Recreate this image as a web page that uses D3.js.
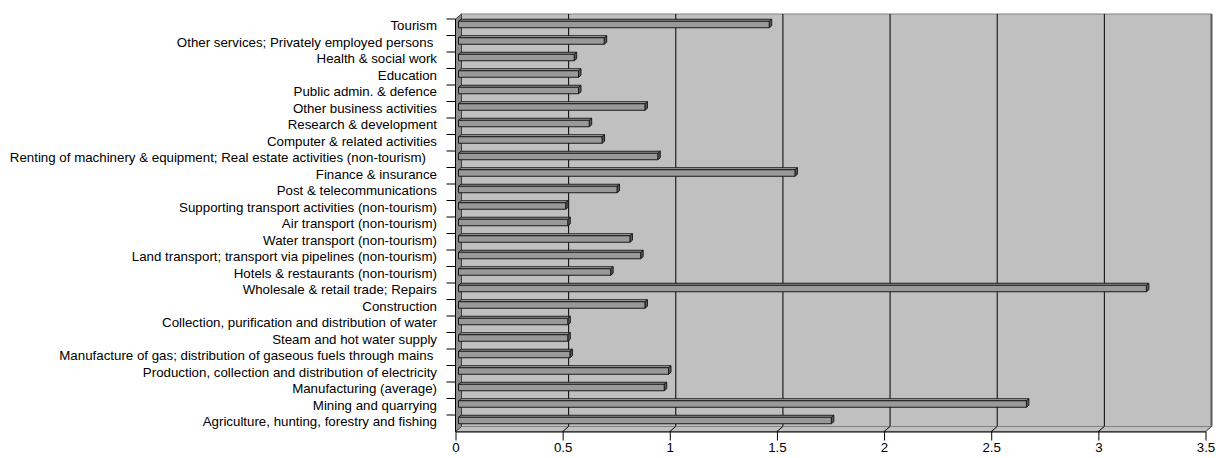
<!DOCTYPE html>
<meta charset="utf-8">
<style>
body { margin: 0; background: #fff; }
svg text { font-family: "Liberation Sans", Arial, sans-serif; font-size: 13.3px; fill: #000; white-space: pre; }
</style>
<svg width="1216" height="458"></svg>
<script src="https://cdn.jsdelivr.net/npm/d3@7"></script>
<script>

// categories listed top to bottom, as they appear
var categories = [
  "Tourism",
  "Other services; Privately employed persons ",
  "Health & social work",
  "Education",
  "Public admin. & defence",
  "Other business activities",
  "Research & development",
  "Computer & related activities",
  "Renting of machinery & equipment; Real estate activities (non-tourism)   ",
  "Finance & insurance",
  "Post & telecommunications",
  "Supporting transport activities (non-tourism)",
  "Air transport (non-tourism)",
  "Water transport (non-tourism)",
  "Land transport; transport via pipelines (non-tourism)",
  "Hotels & restaurants (non-tourism)",
  "Wholesale & retail trade; Repairs",
  "Construction",
  "Collection, purification and distribution of water",
  "Steam and hot water supply",
  "Manufacture of gas; distribution of gaseous fuels through mains ",
  "Production, collection and distribution of electricity",
  "Manufacturing (average)",
  "Mining and quarrying",
  "Agriculture, hunting, forestry and fishing"
];

var values = [
  1.45, 0.68, 0.54, 0.56, 0.56, 0.87, 0.61, 0.67, 0.93, 1.57,
  0.74, 0.50, 0.51, 0.80, 0.85, 0.71, 3.21, 0.87, 0.51, 0.51,
  0.52, 0.98, 0.96, 2.65, 1.74
];

var xTicks = [0, 0.5, 1, 1.5, 2, 2.5, 3, 3.5];

var svg = d3.select("svg"),
    depth = {x: 6, y: -5},        // wall depth
    barOff = {x: 3, y: -2.75},    // bars sit mid-depth
    barDepth = {x: 2.5, y: -2},
    barH = 6.5;

var x = d3.scaleLinear().domain([0, 3.5]).range([455.5, 1205.5]);
var y = d3.scaleBand().domain(categories).range([19, 431.5]);

var x0 = x(0), x1 = x(3.5), yTop = y.range()[0], yBot = y.range()[1];

// back wall
svg.append("rect")
    .attr("x", x0 + depth.x)
    .attr("y", yTop + depth.y)
    .attr("width", x1 - x0)
    .attr("height", yBot - yTop)
    .attr("fill", "#c0c0c0")
    .attr("stroke", "#808080");

svg.append("line")
    .attr("x1", x1 + depth.x).attr("x2", x1 + depth.x)
    .attr("y1", yTop + depth.y).attr("y2", yBot + depth.y)
    .attr("stroke", "#5a5a5a").attr("stroke-width", 2);

// gridlines on wall and floor
svg.append("g").selectAll("line")
  .data(xTicks.slice(1, -1))
  .enter().append("line")
    .attr("x1", function(d) { return x(d) + depth.x; })
    .attr("x2", function(d) { return x(d) + depth.x; })
    .attr("y1", yTop + depth.y)
    .attr("y2", yBot + depth.y)
    .attr("stroke", "#000");

// floor
svg.append("path")
    .attr("d", "M" + x0 + "," + yBot + "L" + x1 + "," + yBot +
               "L" + (x1 + depth.x) + "," + (yBot + depth.y) +
               "L" + (x0 + depth.x) + "," + (yBot + depth.y) + "Z")
    .attr("fill", "#c0c0c0")
    .attr("stroke", "#808080");

svg.append("g").selectAll("line")
  .data(xTicks.slice(1))
  .enter().append("line")
    .attr("x1", function(d) { return x(d); })
    .attr("x2", function(d) { return x(d) + depth.x; })
    .attr("y1", yBot)
    .attr("y2", yBot + depth.y)
    .attr("stroke", function(d) { return d == 3.5 ? "#5a5a5a" : "#000"; });

// side wall
svg.append("path")
    .attr("d", "M" + x0 + "," + yTop + "L" + (x0 + depth.x) + "," + (yTop + depth.y) +
               "L" + (x0 + depth.x) + "," + (yBot + depth.y) + "L" + x0 + "," + yBot + "Z")
    .attr("fill", "#8c8c8c")
    .attr("stroke", "#404040");

// bars
var data = categories.map(function(c, i) { return {category: c, value: values[i]}; });

var bar = svg.append("g").selectAll("g")
  .data(data)
  .enter().append("g")
    .attr("stroke", "#1a1a1a")
    .attr("stroke-width", 1)
    .attr("stroke-linejoin", "round");

function barTop(d) { return y(d.category) + y.bandwidth() / 2 + barOff.y - barH / 2; }
function xs() { return x0 + barOff.x; }
function xe(d) { return x(d.value) + barOff.x; }

bar.append("path")
    .attr("fill", "#b4b4b4")
    .attr("d", function(d) {
      var t = barTop(d);
      return "M" + xs() + "," + t + "L" + xe(d) + "," + t +
             "L" + (xe(d) + barDepth.x) + "," + (t + barDepth.y) +
             "L" + (xs() + barDepth.x) + "," + (t + barDepth.y) + "Z";
    });

bar.append("path")
    .attr("fill", "#5a5a5a")
    .attr("d", function(d) {
      var t = barTop(d);
      return "M" + xe(d) + "," + t + "L" + (xe(d) + barDepth.x) + "," + (t + barDepth.y) +
             "L" + (xe(d) + barDepth.x) + "," + (t + barH + barDepth.y) +
             "L" + xe(d) + "," + (t + barH) + "Z";
    });

bar.append("rect")
    .attr("fill", "#999999")
    .attr("x", xs)
    .attr("y", barTop)
    .attr("width", function(d) { return xe(d) - xs(); })
    .attr("height", barH);

// value axis
var xAxis = svg.append("g")
    .attr("transform", "translate(0," + yBot + ")")
    .call(d3.axisBottom(x).tickValues(xTicks).tickSize(9).tickSizeOuter(0).tickPadding(2)
      .tickFormat(d3.format("")));

xAxis.attr("font-family", null).attr("font-size", null);
xAxis.select(".domain").attr("stroke", "#000");
xAxis.selectAll(".tick line").attr("stroke", "#000");

// category axis
svg.append("line")
    .attr("x1", x0).attr("x2", x0)
    .attr("y1", yTop).attr("y2", yBot)
    .attr("stroke", "#000");

svg.append("g").selectAll("line")
  .data(categories.map(function(c) { return y(c); }))
  .enter().append("line")
    .attr("x1", x0 - 9)
    .attr("x2", x0)
    .attr("y1", function(d) { return d; })
    .attr("y2", function(d) { return d; })
    .attr("stroke", "#000");

svg.append("g").selectAll("text")
  .data(categories)
  .enter().append("text")
    .attr("x", 437)
    .attr("y", function(d) { return y(d) + y.bandwidth() / 2 - 1.5; })
    .attr("dy", "0.35em")
    .attr("text-anchor", "end")
    .text(function(d) { return d; });

</script>
